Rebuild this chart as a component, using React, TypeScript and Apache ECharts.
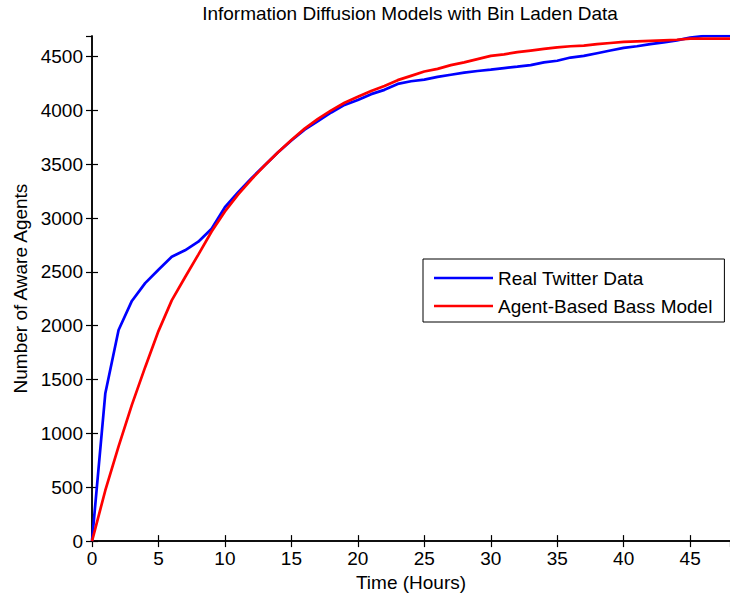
import React, { useEffect, useRef } from "react";
import * as echarts from "echarts";

const hours = [
  0, 1, 2, 3, 4, 5, 6, 7, 8, 9, 10, 11, 12, 13, 14, 15, 16, 17, 18, 19, 20, 21, 22, 23, 24,
  25, 26, 27, 28, 29, 30, 31, 32, 33, 34, 35, 36, 37, 38, 39, 40, 41, 42, 43, 44, 45, 46, 47, 48,
];
const realTwitter = [
  0, 1370, 1960, 2230, 2395, 2520, 2640, 2700, 2780, 2900, 3100, 3240, 3370, 3490, 3610, 3720,
  3820, 3900, 3980, 4050, 4095, 4150, 4190, 4245, 4270, 4285, 4310, 4330, 4350, 4365, 4378,
  4392, 4405, 4420, 4445, 4460, 4490, 4505, 4530, 4555, 4580, 4595, 4615, 4630, 4650, 4675,
  4690, 4690, 4690,
];
const bassModel = [
  0, 470, 880, 1265, 1615, 1950, 2235, 2450, 2660, 2875, 3060, 3220, 3360, 3490, 3610, 3725,
  3830, 3920, 4000, 4070, 4125, 4180, 4225, 4280, 4320, 4360, 4385, 4420, 4445, 4475, 4505,
  4520, 4540, 4555, 4570, 4585, 4595, 4600, 4615, 4625, 4635, 4640, 4645, 4650, 4655, 4665,
  4665, 4665, 4665,
];
const seriesNames = ["Real Twitter Data", "Agent-Based Bass Model"];
const titleText = "Information Diffusion Models with Bin Laden Data";
const xName = "Time (Hours)";
const yName = "Number of Aware Agents";

const FONT = '"Liberation Sans", Arial, sans-serif';

export default function App() {
  const ref = useRef<HTMLDivElement>(null);
  useEffect(() => {
    const chart = echarts.init(ref.current!, null, { renderer: "svg" });
    const axisLine = { show: true, lineStyle: { color: "#000", width: 1.5 } };
    const axisTick = { show: true, inside: true, length: 6, lineStyle: { color: "#000", width: 1.2 } };
    const label = { color: "#000", fontSize: 19, fontFamily: FONT };
    chart.setOption({
      animation: false,
      backgroundColor: "#fff",
      graphic: [
        {
          type: "text",
          x: 410,
          y: 13,
          style: {
            text: titleText,
            fill: "#000",
            font: `19px ${FONT}`,
            textAlign: "center",
            textVerticalAlign: "middle",
          },
        },
      ],
      grid: { left: 92, top: 36, right: -4, bottom: 54, containLabel: false },
      legend: {
        data: seriesNames,
        orient: "vertical",
        left: 423,
        top: 259,
        icon: "rect",
        itemWidth: 59,
        itemHeight: 2.5,
        itemGap: 8,
        itemTextGap: 6,
        textStyle: { color: "#000", fontSize: 19, lineHeight: 20, fontFamily: FONT },
        backgroundColor: "#fff",
        borderColor: "#000",
        borderWidth: 1,
        borderRadius: 0,
        padding: [9, 12, 6, 11],
      },
      xAxis: [
        {
          type: "value",
          min: 0,
          max: 48,
          interval: 5,
          position: "bottom",
          axisLine,
          axisTick,
          splitLine: { show: false },
          axisLabel: { ...label, margin: 8, showMaxLabel: false, formatter: (v: number) => String(v) },
          name: xName,
          nameLocation: "middle",
          nameGap: 30,
          nameTextStyle: { ...label },
        },
        {
          type: "value",
          min: 0,
          max: 48,
          interval: 5,
          position: "top",
          axisLine,
          axisTick,
          splitLine: { show: false },
          axisLabel: { show: false },
        },
      ],
      yAxis: [
        {
          type: "value",
          min: 0,
          max: 4690,
          interval: 500,
          position: "left",
          axisLine,
          axisTick,
          splitLine: { show: false },
          axisLabel: { ...label, margin: 9, showMaxLabel: false, formatter: (v: number) => String(v) },
          name: yName,
          nameLocation: "middle",
          nameGap: 60,
          nameTextStyle: { ...label },
        },
        {
          type: "value",
          min: 0,
          max: 4690,
          interval: 500,
          position: "right",
          axisLine,
          axisTick,
          splitLine: { show: false },
          axisLabel: { show: false },
        },
      ],
      series: [
        {
          name: seriesNames[0],
          type: "line",
          xAxisIndex: 0,
          yAxisIndex: 0,
          symbol: "none",
          color: "#0000ff",
          lineStyle: { color: "#0000ff", width: 2.7 },
          data: hours.map((h, i) => [h, realTwitter[i]]),
        },
        {
          name: seriesNames[1],
          type: "line",
          xAxisIndex: 0,
          yAxisIndex: 0,
          symbol: "none",
          color: "#ff0000",
          lineStyle: { color: "#ff0000", width: 2.7 },
          data: hours.map((h, i) => [h, bassModel[i]]),
        },
      ],
    });
    return () => chart.dispose();
  }, []);
  return (
    <div
      ref={ref}
      style={{ position: "absolute", left: 0, top: 0, width: 730, height: 597, background: "#fff" }}
    />
  );
}
